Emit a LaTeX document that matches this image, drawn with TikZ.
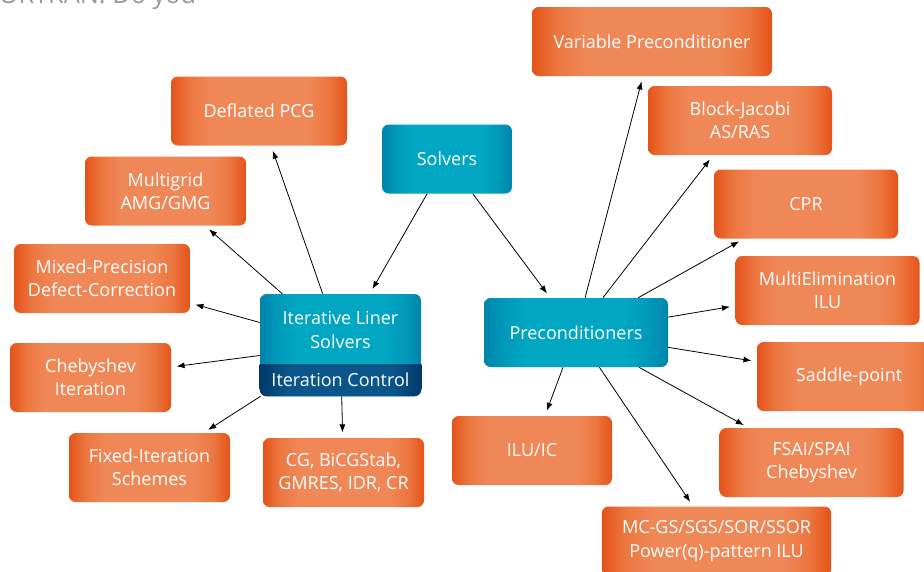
\documentclass[tikz,border=0pt]{standalone}
\usepackage{fontspec}
\setmainfont{Open Sans}
\usepackage{tikz}
\usetikzlibrary{arrows.meta,positioning,calc}
\definecolor{slvOrange}{HTML}{E4531A}
\definecolor{slvOrangeMd}{HTML}{EC763F}
\definecolor{slvOrangeLt}{HTML}{F08756}
\definecolor{slvBlue}{HTML}{0084AC}
\definecolor{slvBlueMd}{HTML}{0098B8}
\definecolor{slvBlueLt}{HTML}{00A6C2}
\definecolor{slvNavy}{HTML}{003A6A}
\definecolor{slvNavyLt}{HTML}{0A568A}
\pgfdeclarehorizontalshading{orangeband}{100bp}{color(0bp)=(slvOrange); color(25bp)=(slvOrange);
  color(30bp)=(slvOrangeMd); color(36bp)=(slvOrangeLt); color(64bp)=(slvOrangeLt);
  color(70bp)=(slvOrangeMd); color(75bp)=(slvOrange); color(100bp)=(slvOrange)}
\pgfdeclarehorizontalshading{blueband}{100bp}{color(0bp)=(slvBlue); color(25bp)=(slvBlue);
  color(30bp)=(slvBlueMd); color(36bp)=(slvBlueLt); color(64bp)=(slvBlueLt);
  color(70bp)=(slvBlueMd); color(75bp)=(slvBlue); color(100bp)=(slvBlue)}
\pgfdeclarehorizontalshading{navyband}{100bp}{color(0bp)=(slvNavy); color(25bp)=(slvNavy);
  color(34bp)=(slvNavyLt); color(66bp)=(slvNavyLt); color(75bp)=(slvNavy); color(100bp)=(slvNavy)}

\begin{document}
\begin{tikzpicture}[x=0.75pt, y=-0.75pt,
  lbl/.style={text=white, font=\fontsize{13.5}{17.5}\selectfont, align=center},
  obox/.style={lbl, rounded corners=5pt, inner sep=0pt, minimum height=51.75pt, shading=orangeband},
  bbox/.style={lbl, rounded corners=5pt, inner sep=0pt, minimum height=51.75pt, shading=blueband},
  arr/.style={-{Latex[length=6pt,width=4.5pt]}, line width=0.6pt, shorten >=4pt}]
\useasboundingbox (0,0) rectangle (924,571);
% --- cut-off text at the top ---
\node[anchor=base east, text=gray!80, font=\fontsize{19}{22}\selectfont] (top) at (201,3) {FORTRAN. Do you};
% --- root ---
\node[bbox, minimum width=97.5pt] (sol) at (447,159) {Solvers};
% --- iterative solvers (with control band) ---
\node[bbox, minimum width=120.75pt, minimum height=76.5pt] (ils) at (340.5,345) {};
\begin{scope}
  \clip[rounded corners=5pt] (ils.south west) rectangle (ils.north east);
  \shade[shading=navyband] (ils.south west) rectangle ([yshift=24pt]ils.south east);
\end{scope}
\node[lbl] (ilsT) at (340.5,330) {Iterative Liner\\Solvers};
\node[lbl] (ilsC) at (340.5,380) {Iteration Control};
% --- preconditioners ---
\node[bbox, minimum width=138pt] (pre) at (576,332.5) {Preconditioners};
% --- solver leaves ---
\node[obox, minimum width=132pt] (dfl) at (259,111) {Deflated PCG};
\node[obox, minimum width=120.75pt] (mg) at (165.5,191) {Multigrid\\AMG/GMG};
\node[obox, minimum width=132pt] (mp) at (102,278.5) {Mixed-Precision\\Defect-Correction};
\node[obox, minimum width=120.75pt] (cheb) at (90.5,377.5) {Chebyshev\\Iteration};
\node[obox, minimum width=120.75pt] (fix) at (149.5,467.5) {Fixed-Iteration\\Schemes};
\node[obox, minimum width=120.75pt] (cg) at (343.5,472.5) {CG, BiCGStab,\\GMRES, IDR, CR};
% --- preconditioner leaves ---
\node[obox, minimum width=180pt] (var) at (652,41.5) {Variable Preconditioner};
\node[obox, minimum width=138pt] (bj) at (740,120.5) {Block-Jacobi\\AS/RAS};
\node[obox, minimum width=138pt] (cpr) at (806,204) {CPR};
\node[obox, minimum width=138pt] (me) at (827.5,290.5) {MultiElimination\\ILU};
\node[obox, minimum width=138pt] (sp) at (849,376.5) {Saddle-point};
\node[obox, minimum width=138pt] (fsai) at (811.5,462.5) {FSAI/SPAI\\Chebyshev};
\node[obox, minimum width=172pt] (mc) at (716.5,541) {MC-GS/SGS/SOR/SSOR\\Power(q)-pattern ILU};
\node[obox, minimum width=120pt] (ilu) at (532,450.5) {ILU/IC};
% --- connectors ---
\draw[arr] (sol) -- (ils);
\draw[arr] (sol) -- (pre);
\foreach \t in {dfl,mg,mp,cheb,fix,cg}
  \draw[arr] (ils) -- (\t);
\foreach \t in {var,bj,cpr,me,sp,fsai,mc,ilu}
  \draw[arr] (pre) -- (\t);
\end{tikzpicture}
\end{document}
